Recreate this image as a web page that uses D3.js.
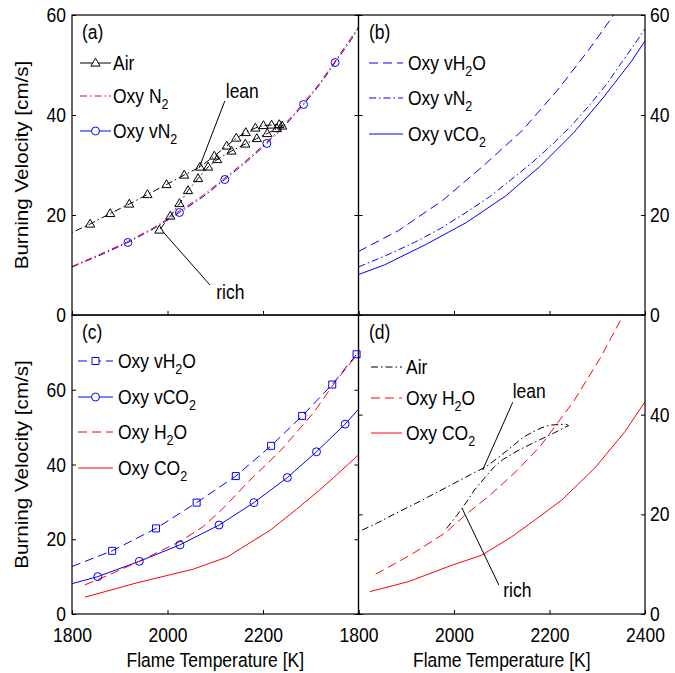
<!DOCTYPE html>
<html>
<head>
<meta charset="utf-8">
<script src="https://cdn.jsdelivr.net/npm/d3@7"></script>
<style>
  body { margin: 0; background: #fff; }
  svg text { font-family: "Liberation Sans", Arial, Helvetica, sans-serif; fill: #000; font-size: 17.5px; }
</style>
</head>
<body>
<svg id="chart" width="675" height="673"></svg>
<script>
// ---- data: [flame temperature K, burning velocity cm/s] ----
const airLean = [[1780, 15.6], [1838, 18.2], [1880, 20.3], [1920, 22.2], [1958, 24.1], [1998, 26.1],
  [2035, 28.0], [2068, 29.6], [2098, 31.8], [2124, 33.8], [2144, 35.4], [2164, 36.5], [2184, 37.4],
  [2201, 37.9], [2218, 38.0], [2234, 38.1], [2240, 37.8]];
const airRich = [[2229, 37.3], [2209, 36.3], [2187, 35.3], [2163, 34.2], [2134, 32.8], [2104, 31.1],
  [2085, 29.6], [2064, 27.3], [2043, 24.9], [2025, 22.3], [2006, 19.8], [1983, 17.0]];
const oxyN2 = [[1800, 9.7], [1860, 12.2], [1917, 14.7], [1972, 17.5], [2025, 20.8], [2074, 23.9],
  [2120, 27.4], [2165, 30.9], [2208, 34.6], [2247, 38.3], [2285, 42.4], [2319, 46.4], [2351, 50.8],
  [2380, 54.8], [2400, 57.6]];
const oxyVN2 = [[1800, 9.6], [1860, 12.0], [1917, 14.5], [1972, 17.3], [2025, 20.5], [2074, 23.6],
  [2120, 27.1], [2165, 30.6], [2208, 34.3], [2247, 38.0], [2285, 42.1], [2319, 46.1], [2351, 50.5],
  [2380, 54.4], [2400, 57.3]];
const oxyVH2O = [[1800, 12.7], [1884, 16.9], [1976, 22.9], [2061, 29.8], [2143, 36.9], [2217, 45.0],
  [2282, 53.0], [2345, 61.4], [2396, 69.5]];
const oxyVCO2 = [[1800, 8.1], [1854, 10.0], [1941, 14.1], [2026, 18.5], [2108, 23.8], [2181, 29.8],
  [2251, 36.5], [2312, 43.4], [2372, 50.8], [2400, 54.8]];
const oxyH2O_c = [[1827, 7.8], [1880, 10.6], [1941, 14.1], [2026, 19.4], [2075, 23.4], [2120, 28.7],
  [2166, 35.0], [2236, 43.6], [2305, 53.7], [2354, 62.6], [2400, 69.8]];
const oxyCO2_c = [[1827, 4.5], [1935, 8.3], [2054, 12.0], [2124, 15.2], [2215, 22.4], [2270, 28.0],
  [2319, 33.2], [2354, 37.2], [2400, 42.6]];
const oxyH2O_d = [[1836, 8.0], [1910, 11.9], [1982, 16.3], [2024, 19.9], [2076, 23.9], [2130, 28.6],
  [2180, 33.6], [2250, 42.6], [2306, 51.3], [2353, 59.7], [2370, 63.0]];
const oxyCO2_d = [[1824, 4.5], [1905, 6.5], [1996, 9.8], [2058, 11.8], [2121, 15.5], [2170, 18.9],
  [2226, 22.9], [2295, 29.3], [2358, 36.6], [2400, 42.6]];

const tempTicks = [1800, 2000, 2200, 2400];
const velTicks60 = [0, 20, 40, 60];
const velTicks80 = [0, 20, 40, 60, 80];

// annotation anchors: [text pos, line start, line end]
const leanNoteA = [[2122, 44.8], [2120, 42.8], [2066, 29.4]];
const richNoteA = [[2102, 4.6], [2089, 6.0], [1991, 16.6]];
const leanNoteD = [[2123, 44.9], [2123, 42.5], [2060, 28.9]];
const richNoteD = [[2103, 4.8], [2094, 5.8], [2017, 21.2]];

// ---- layout ----
const SY = 1.18;            // the figure's text is stretched vertically
const X0 = 72, XM = 358.5, X1 = 645;
const Y0 = 15, YM = 315, Y1 = 614;
const DASH = '9,5';
const DASHDOT = '7,3,1.5,3';
const RED = '#ff0000', BLUE = '#0000ff', BLACK = '#000000';

const svg = d3.select('#chart');
const defs = svg.append('defs');
const airAll = airLean.concat(airRich);

function makePanel(id, x0, x1, y0, y1, vmax) {
  const x = d3.scaleLinear().domain([1800, 2400]).range([x0, x1]);
  const y = d3.scaleLinear().domain([0, vmax]).range([y1, y0]);
  defs.append('clipPath').attr('id', 'clip-' + id)
      .append('rect').attr('x', x0).attr('y', y0)
      .attr('width', x1 - x0).attr('height', y1 - y0);
  const g = svg.append('g');
  const plot = g.append('g').attr('clip-path', `url(#clip-${id})`);
  return {id, x, y, g, plot, x0, x1, y0, y1, vmax};
}

// stretched text with "_2" style subscripts
function addText(parent, x, y, str, anchor) {
  const t = parent.append('text')
      .attr('transform', `translate(${x},${y}) scale(1,${SY})`)
      .attr('text-anchor', anchor || 'start');
  str.split(/_(\d)/).forEach((part, i) => {
    if (!part) return;
    if (i % 2 === 1) {
      t.append('tspan').attr('dy', 5).style('font-size', '12.5px').text(part);
    } else {
      t.append('tspan').attr('dy', i > 0 ? -5 : 0).text(part);
    }
  });
  return t;
}

function drawLine(p, data, color, dash) {
  p.plot.append('path')
      .datum(data)
      .attr('fill', 'none')
      .attr('stroke', color)
      .attr('stroke-width', 1)
      .attr('stroke-dasharray', dash)
      .attr('d', d3.line().x(d => p.x(d[0])).y(d => p.y(d[1])));
}

function markerPath(shape) {
  if (shape === 'triangle') return 'M0,-4.8L4.6,3.1L-4.6,3.1Z';
  if (shape === 'square') return 'M-3.5,-3.5H3.5V3.5H-3.5Z';
  return d3.symbol(d3.symbolCircle, 50)();
}

function drawMarkers(p, data, shape, color) {
  p.g.append('g').selectAll('path')
      .data(data.filter(d => d[0] >= 1800 && d[0] <= 2400))
      .join('path')
      .attr('transform', d => `translate(${p.x(d[0])},${p.y(d[1])})`)
      .attr('d', markerPath(shape))
      .attr('fill', 'none')
      .attr('stroke', color)
      .attr('stroke-width', 1);
}

function legend(p, lx0, lx1, tx, rows) {
  rows.forEach(([y, label, color, dash, shape]) => {
    p.g.append('line')
        .attr('x1', lx0).attr('x2', lx1).attr('y1', y).attr('y2', y)
        .attr('stroke', color).attr('stroke-width', 1)
        .attr('stroke-dasharray', dash);
    if (shape) {
      p.g.append('path')
          .attr('transform', `translate(${(lx0 + lx1) / 2},${y})`)
          .attr('d', markerPath(shape))
          .attr('fill', '#fff').attr('stroke', color);
    }
    addText(p.g, tx, y + 7.4, label);
  });
}

function note(p, pts, label) {
  const [tp, a, b] = pts;
  p.g.append('line')
      .attr('x1', p.x(a[0])).attr('y1', p.y(a[1]))
      .attr('x2', p.x(b[0])).attr('y2', p.y(b[1]))
      .attr('stroke', BLACK).attr('stroke-width', 1);
  addText(p.g, p.x(tp[0]), p.y(tp[1]) + 7.4, label);
}

function stretchTicks(axisG, bottom) {
  axisG.attr('font-size', null).attr('font-family', null);
  axisG.select('.domain').remove();
  axisG.selectAll('.tick text')
      .attr('transform', `scale(1,${SY})`)
      .attr('y', function() { return bottom ? +this.getAttribute('y') / SY : 0; });
}

function axes(p, opt) {
  const ticksY = p.vmax === 80 ? velTicks80 : velTicks60;
  const hideTop = v => (v === p.vmax && opt.hideTopY ? '' : v);
  const left = p.g.append('g').attr('transform', `translate(${p.x0},0)`)
      .call(d3.axisLeft(p.y).tickValues(ticksY).tickSizeInner(-4).tickSizeOuter(0)
          .tickPadding(6).tickFormat(opt.leftLabels ? hideTop : () => ''));
  stretchTicks(left, false);
  const right = p.g.append('g').attr('transform', `translate(${p.x1},0)`)
      .call(d3.axisRight(p.y).tickValues(ticksY).tickSizeInner(-4).tickSizeOuter(0)
          .tickPadding(5).tickFormat(opt.rightLabels ? hideTop : () => ''));
  stretchTicks(right, false);
  const bottom = p.g.append('g').attr('transform', `translate(0,${p.y1})`)
      .call(d3.axisBottom(p.x).tickValues(tempTicks).tickSizeInner(-4).tickSizeOuter(0)
          .tickPadding(13)
          .tickFormat(opt.bottomLabels ? (v => (v === 2400 && opt.hideLastX ? '' : v)) : () => ''));
  stretchTicks(bottom, true);
  p.g.append('rect')
      .attr('x', p.x0).attr('y', p.y0)
      .attr('width', p.x1 - p.x0).attr('height', p.y1 - p.y0)
      .attr('fill', 'none').attr('stroke', BLACK).attr('stroke-width', 1.2);
}

const pa = makePanel('a', X0, XM, Y0, YM, 60);
const pb = makePanel('b', XM, X1, Y0, YM, 60);
const pc = makePanel('c', X0, XM, YM, Y1, 80);
const pd = makePanel('d', XM, X1, YM, Y1, 60);

// (a)
drawLine(pa, airAll, BLACK, DASHDOT);
drawLine(pa, oxyVN2, BLUE, DASHDOT);
drawLine(pa, oxyN2, RED, DASHDOT);
drawMarkers(pa, airAll, 'triangle', BLACK);
drawMarkers(pa, oxyVN2.filter((d, i) => i % 2 === 0 && i > 0 && i < oxyVN2.length - 1), 'circle', BLUE);
note(pa, leanNoteA, 'lean');
note(pa, richNoteA, 'rich');

// (b)
drawLine(pb, oxyVH2O, BLUE, DASH);
drawLine(pb, oxyVN2, BLUE, DASHDOT);
drawLine(pb, oxyVCO2, BLUE, null);

// (c)
drawLine(pc, oxyVH2O, BLUE, DASH);
drawLine(pc, oxyVCO2, BLUE, null);
drawLine(pc, oxyH2O_c, RED, DASH);
drawLine(pc, oxyCO2_c, RED, null);
drawMarkers(pc, oxyVH2O.slice(1), 'square', BLUE);
drawMarkers(pc, oxyVCO2.slice(1, -1), 'circle', BLUE);

// (d)
drawLine(pd, airAll, BLACK, DASHDOT);
drawLine(pd, oxyH2O_d, RED, DASH);
drawLine(pd, oxyCO2_d, RED, null);
note(pd, leanNoteD, 'lean');
note(pd, richNoteD, 'rich');

axes(pa, {leftLabels: true});
axes(pb, {rightLabels: true});
axes(pc, {leftLabels: true, hideTopY: true, bottomLabels: true, hideLastX: true});
axes(pd, {rightLabels: true, hideTopY: true, bottomLabels: true});

// panel tags and legends
addText(pa.g, 82, 39, '(a)');
addText(pb.g, 369, 39, '(b)');
addText(pc.g, 82, 339, '(c)');
addText(pd.g, 369, 339, '(d)');

legend(pa, 80, 111, 113, [
  [63, 'Air', BLACK, null, 'triangle'],
  [96, 'Oxy N_2', RED, DASHDOT, null],
  [131, 'Oxy vN_2', BLUE, null, 'circle']]);
legend(pb, 369, 403, 408, [
  [63, 'Oxy vH_2O', BLUE, DASH, null],
  [98, 'Oxy vN_2', BLUE, DASHDOT, null],
  [134, 'Oxy vCO_2', BLUE, null, null]]);
legend(pc, 78, 113, 118, [
  [361, 'Oxy vH_2O', BLUE, DASH, 'square'],
  [397, 'Oxy vCO_2', BLUE, null, 'circle'],
  [432, 'Oxy H_2O', RED, DASH, null],
  [468, 'Oxy CO_2', RED, null, null]]);
legend(pd, 371, 402, 406, [
  [367, 'Air', BLACK, DASHDOT, null],
  [398, 'Oxy H_2O', RED, DASH, null],
  [433, 'Oxy CO_2', RED, null, null]]);

// axis titles
addText(svg, (X0 + XM) / 2, 667, 'Flame Temperature [K]', 'middle');
addText(svg, (XM + X1) / 2, 667, 'Flame Temperature [K]', 'middle');
[(Y0 + YM) / 2, (YM + Y1) / 2].forEach(yc => {
  svg.append('text')
      .attr('transform', `translate(28,${yc}) rotate(-90) scale(${SY},1)`)
      .attr('text-anchor', 'middle')
      .text('Burning Velocity [cm/s]');
});
</script>
</body>
</html>
